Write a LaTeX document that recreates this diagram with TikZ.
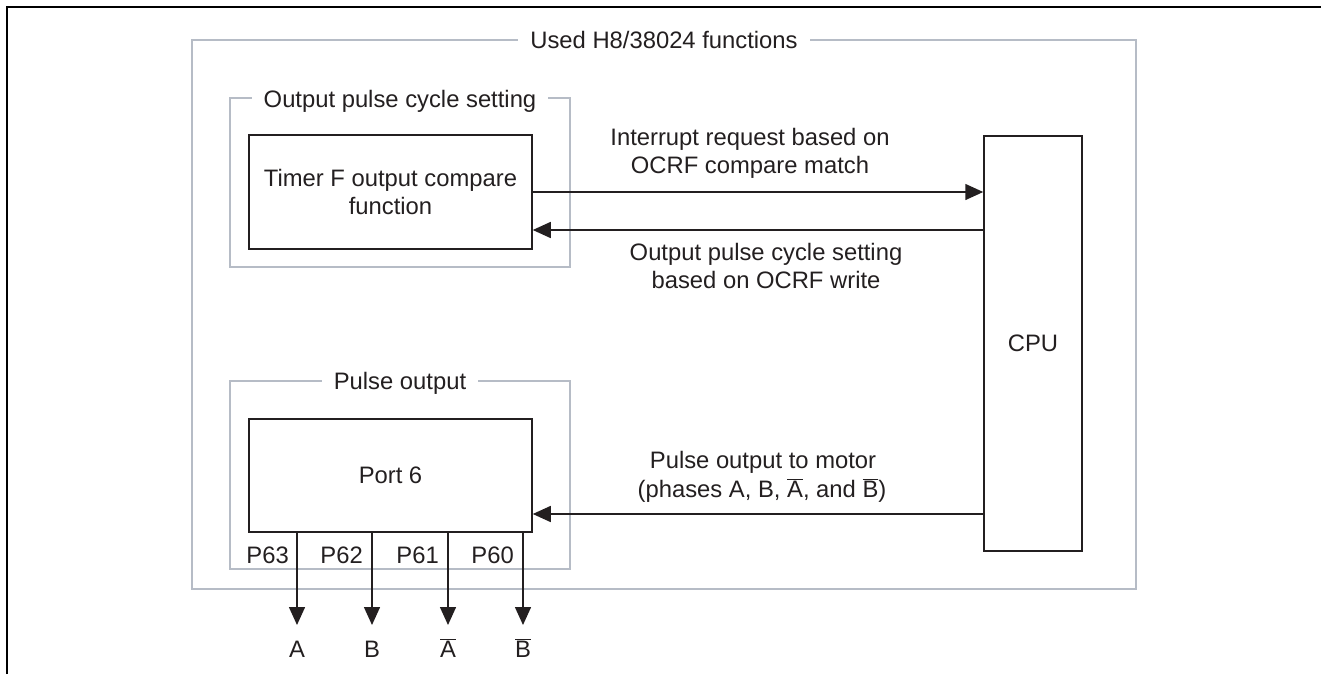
\documentclass[tikz,border=0pt]{standalone}
\usepackage{fontspec}
\setmainfont{Liberation Sans}
\usetikzlibrary{arrows.meta,calc}
\definecolor{framegray}{RGB}{182,188,198}
\definecolor{ink}{RGB}{35,31,32}
\newcommand\ovl[1]{\ensuremath{\overline{\mbox{#1}}}}

\begin{document}
\begin{tikzpicture}[x=1pt,y=-1pt,
  every node/.style={font=\fontsize{23.8}{28.5}\selectfont, text=ink},
  group/.style={draw=framegray, line width=2pt, inner sep=0pt},
  title/.style={fill=white, inner xsep=12pt, inner ysep=2pt, anchor=base},
  blk/.style={draw=ink, line width=1.5pt, inner sep=0pt, align=center},
  lbl/.style={anchor=base, inner sep=0pt},
  arr/.style={draw=ink, line width=1.5pt, -{Triangle[length=18pt,width=16pt]}},
]
\useasboundingbox (0,0) rectangle (1321,674);

% page frame corner
\draw[line width=2.2pt, black] (7,674) -- (7,7) -- (1321,7);

% grouping frames
\node[group, minimum width=944pt, minimum height=549pt] (used) at (664,314.5) {};
\node[group, minimum width=340pt, minimum height=169pt] (cycle) at (400,182.5) {};
\node[group, minimum width=340pt, minimum height=188pt] (pulse) at (400,475) {};

\node[title] (usedT) at (664,49) {Used H8/38024 functions};
\node[title] (cycleT) at (400,107) {Output pulse cycle setting};
\node[title] (pulseT) at (400,389) {Pulse output};

% functional blocks
\node[blk, minimum width=283pt, minimum height=114pt] (timer) at (390.5,192)
  {Timer F output compare\\function};
\node[blk, minimum width=283pt, minimum height=113pt] (port) at (390.5,475.5) {Port 6};
\node[blk, minimum width=98pt, minimum height=415pt] (cpu) at (1033,343.5) {CPU};

% timer <-> CPU
\draw[arr] (timer.east) -- (timer.east -| cpu.west);
\draw[arr] ($(cpu.west |- timer.east)+(0,38)$) -- ($(timer.east)+(0,38)$);
\node[lbl] (irq1) at (750,145) {Interrupt request based on};
\node[lbl] (irq2) at (750,173) {OCRF compare match};
\node[lbl] (wr1) at (766,260) {Output pulse cycle setting};
\node[lbl] (wr2) at (766,288) {based on OCRF write};

% CPU -> port 6
\draw[arr] ($(cpu.west |- port.east)+(0,38.5)$) -- ($(port.east)+(0,38.5)$);
\node[lbl] (mot1) at (763,468) {Pulse output to motor};
\node[lbl] (mot2) at (762,497) {(phases A, B, \ovl{A}, and \ovl{B})};

% port pins
\coordinate (oA) at (297,625);
\coordinate (oB) at (372,625);
\coordinate (oAn) at (448,625);
\coordinate (oBn) at (523,625);
\draw[arr] (port.south -| oA) -- (oA);
\draw[arr] (port.south -| oB) -- (oB);
\draw[arr] (port.south -| oAn) -- (oAn);
\draw[arr] (port.south -| oBn) -- (oBn);

\node[lbl, anchor=base east] (p63) at (289,563) {P63};
\node[lbl, anchor=base east] (p62) at (363,563) {P62};
\node[lbl, anchor=base east] (p61) at (439,563) {P61};
\node[lbl, anchor=base east] (p60) at (514,563) {P60};

\node[lbl] (lA) at (297,657) {A};
\node[lbl] (lB) at (372,657) {B};
\node[lbl] (lAn) at (448,657) {\ovl{A}};
\node[lbl] (lBn) at (523,657) {\ovl{B}};
\end{tikzpicture}
\end{document}
